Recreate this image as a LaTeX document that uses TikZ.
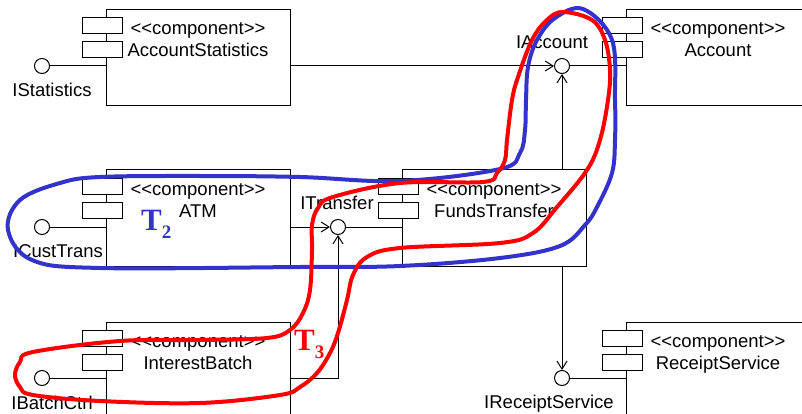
\documentclass[tikz,border=0pt]{standalone}
\usepackage{fontspec}
\setmainfont{Liberation Sans}
\newfontfamily\tagfont{Liberation Serif}
\usetikzlibrary{arrows.meta}
\definecolor{umlcolor0001}{RGB}{0,0,0}
\definecolor{umlcolor0002}{RGB}{250,0,0}
\definecolor{umlcolor0003}{RGB}{51,51,204}
\newcommand{\stereotype}{<\kern0pt<component>\kern0pt>}

\begin{document}
\begin{tikzpicture}[yscale=-1
                ,compstyle/.style={draw=umlcolor0001,fill=white,line width=1.0pt,minimum width=184pt,minimum height=96pt,inner sep=0pt}
                ,iconstyle/.style={draw=umlcolor0001,fill=white,line width=1.0pt}
                ,portstyle/.style={circle,draw=umlcolor0001,fill=white,line width=1.0pt,minimum size=15pt,inner sep=0pt}
                ,textstyle/.style={anchor=base,inner sep=0pt,text=black,font=\fontsize{18.5}{22}\selectfont}
                ,wirestyle/.style={color=umlcolor0001,line width=1.0pt}
                ,usestyle/.style={wirestyle,-{Straight Barb[length=8pt,width=10pt]}}
                ,tagstyle/.style={anchor=base west,inner sep=0pt,font=\tagfont\bfseries\fontsize{31}{31}\selectfont}
                ,loopstyle/.style={line width=4pt,line join=round}
            ]
            \useasboundingbox (0pt,0pt) rectangle (802pt,414pt);
            % components
            \foreach \nm/\x/\y/\cname in {AS/106/10/AccountStatistics,Acc/626/10/Account,ATM/106/170/ATM,FT/402/170/FundsTransfer,IB/106/322/InterestBatch,RS/626/322/ReceiptService}{
                \node[compstyle] (\nm) at ({\x pt+92pt},{\y pt+48pt}) {};
                \draw[iconstyle] ({\x pt-24pt},{\y pt+8pt}) rectangle ++(40pt,16pt);
                \draw[iconstyle] ({\x pt-24pt},{\y pt+32pt}) rectangle ++(40pt,16pt);
                \node[textstyle] at ({\x pt+92pt},{\y pt+25pt}) {\stereotype};
                \node[textstyle] at ({\x pt+92pt},{\y pt+47pt}) {\cname};
            }
            % interfaces
            \node[portstyle] (IStat) at (42pt,66pt) {};
            \node[portstyle] (IAcc) at (562pt,66pt) {};
            \node[portstyle] (ICT) at (42pt,227pt) {};
            \node[portstyle] (ITr) at (338pt,227pt) {};
            \node[portstyle] (IBC) at (42pt,378pt) {};
            \node[portstyle] (IRS) at (562pt,378pt) {};
            \node[textstyle] (IStatLbl) at (52pt,97pt) {IStatistics};
            \node[textstyle] (IAccLbl) at (552pt,49pt) {IAccount};
            \node[textstyle] (ICTLbl) at (58pt,257pt) {ICustTrans};
            \node[textstyle] (ITrLbl) at (337pt,209pt) {ITransfer};
            \node[textstyle] (IBCLbl) at (52pt,409pt) {IBatchCtrl};
            \node[textstyle] (IRSLbl) at (549pt,408pt) {IReceiptService};
            % provided
            \draw[wirestyle] (IStat.east) -- (IStat -| AS.west);
            \draw[wirestyle] (IAcc.east) -- (IAcc -| Acc.west);
            \draw[wirestyle] (ICT.east) -- (ICT -| ATM.west);
            \draw[wirestyle] (ITr.east) -- (ITr -| FT.west);
            \draw[wirestyle] (IBC.east) -- (IBC -| IB.west);
            \draw[wirestyle] (IRS.east) -- (IRS -| RS.west);
            % required
            \draw[usestyle] (IAcc -| AS.east) -- (IAcc.west);
            \draw[usestyle] (IAcc |- FT.north) -- (IAcc.south);
            \draw[usestyle] (ITr -| ATM.east) -- (ITr.west);
            \draw[usestyle] (IBC -| IB.east) -- (IBC -| ITr) -- (ITr.south);
            \draw[usestyle] (IRS |- FT.south) -- (IRS.north);
            % transactions
            \node[tagstyle,text=umlcolor0003] (T2) at (141pt,230pt) {T\raisebox{-8pt}{\fontsize{19}{19}\selectfont 2}};
            \node[tagstyle,text=umlcolor0002] (T3) at (294pt,350pt) {T\raisebox{-8pt}{\fontsize{19}{19}\selectfont 3}};
            \draw[loopstyle,color=umlcolor0003] plot[smooth cycle,tension=0.6] coordinates {(583pt,9pt) (612pt,40pt) (615pt,100pt) (615pt,140pt) (612pt,173pt) (597pt,207pt) (585pt,225pt) (560pt,246pt) (500pt,258pt) (400pt,266pt) (300pt,267pt) (100pt,268pt) (32pt,260pt) (8pt,230pt) (20pt,200pt) (60pt,183pt) (100pt,177pt) (200pt,176pt) (300pt,177pt) (400pt,181pt) (500pt,169pt) (520pt,153pt) (525pt,130pt) (526pt,100pt) (528pt,67pt) (537pt,40pt) (555pt,18pt)};
            \draw[loopstyle,color=umlcolor0002] plot[smooth cycle,tension=0.6] coordinates {(563pt,12pt) (592pt,20pt) (605pt,40pt) (610pt,70pt) (608pt,100pt) (600pt,140pt) (587pt,170pt) (557pt,207pt) (533pt,233pt) (500pt,243pt) (400pt,248pt) (367pt,257pt) (353pt,275pt) (347pt,300pt) (338pt,333pt) (330pt,353pt) (317pt,373pt) (300pt,387pt) (280pt,395pt) (200pt,403pt) (100pt,401pt) (33pt,395pt) (20pt,387pt) (15pt,375pt) (20pt,362pt) (33pt,352pt) (120pt,341pt) (200pt,340pt) (267pt,338pt) (290pt,330pt) (303pt,313pt) (310pt,290pt) (312pt,250pt) (312pt,225pt) (318pt,208pt) (333pt,197pt) (400pt,183pt) (483pt,182pt) (497pt,173pt) (505pt,160pt) (507pt,140pt) (512pt,100pt) (518pt,77pt) (532pt,40pt) (547pt,20pt)};
        \end{tikzpicture}
\end{document}
